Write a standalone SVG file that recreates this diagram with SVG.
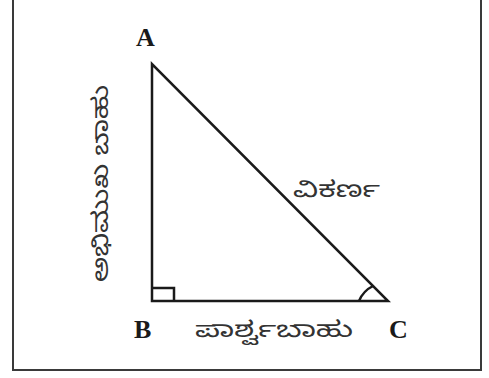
<svg xmlns="http://www.w3.org/2000/svg" width="489" height="378" viewBox="0 0 489 378">
<style>
.ln{fill:none;stroke:#1a1a1a;stroke-width:2.5}
.frame{fill:none;stroke:#3a3a3a;stroke-width:2}
.lbl{font-family:"Liberation Serif",serif;font-weight:bold;font-size:26px;fill:#1a1a1a}
.kn{font-family:"Noto Sans Kannada","Noto Serif Kannada","Noto Sans",sans-serif;font-size:22px;fill:#333}
</style>
<rect width="489" height="378" fill="#fff"/>
<path class="frame" d="M13 0 V370 H481 V0"/>
<g id="triangle">
<path class="ln" d="M152 64 L152 301 L388 301 Z" stroke-linejoin="miter"/>
<path class="ln" d="M152 288 H174 V301" stroke-width="1.8"/>
<path class="ln" d="M359 301 A29 29 0 0 1 373 286" stroke-width="1.8"/>
</g>
<g id="labels">
<text class="lbl" x="136" y="46">A</text>
<text class="lbl" x="134" y="338">B</text>
<text class="lbl" x="389" y="338">C</text>
<text class="kn" x="195" y="337" textLength="158" lengthAdjust="spacingAndGlyphs">ಪಾರ್ಶ್ವಬಾಹು</text>
<text class="kn" x="293" y="197" textLength="87" lengthAdjust="spacingAndGlyphs">ವಿಕರ್ಣ</text>
<text class="kn" transform="translate(108 282) rotate(-90)" textLength="197" lengthAdjust="spacingAndGlyphs">ಅಭಿಮುಖ ಬಾಹು</text>
</g>
</svg>
